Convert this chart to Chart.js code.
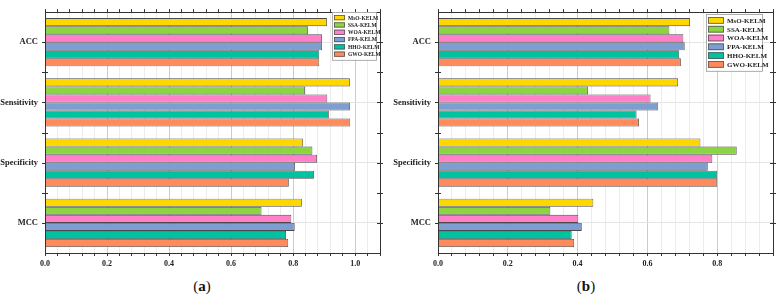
<!DOCTYPE html>
<html>
<head>
<meta charset="utf-8">
<script src="https://cdn.jsdelivr.net/npm/chart.js@4/dist/chart.umd.min.js"></script>
<style>
  html,body{margin:0;padding:0;background:#fff;width:780px;height:297px;overflow:hidden;}
  .wrap{position:absolute;top:0;height:273px;}
  .cap{position:absolute;top:278px;font-family:"Liberation Serif","DejaVu Serif",serif;font-size:15px;color:#111;width:60px;text-align:center;}
</style>
</head>
<body>
<div class="wrap" id="wa" style="left:0;width:390px;"><canvas id="ca"></canvas></div>
<div class="wrap" id="wb" style="left:390px;width:390px;"><canvas id="cb"></canvas></div>
<div class="cap" style="left:172px;">(<b>a</b>)</div>
<div class="cap" style="left:556px;">(<b>b</b>)</div>
<script>
const categories = ["ACC", "Sensitivity", "Specificity", "MCC"];
const seriesNames = ["MsO-KELM", "SSA-KELM", "WOA-KELM", "FPA-KELM", "HHO-KELM", "GWO-KELM"];
const seriesColors = ["#FFD700", "#8CD442", "#FF80C8", "#7E9ED2", "#00C2A0", "#FF8A5C"];

// Panel (a) values, per series: [ACC, Sensitivity, Specificity, MCC]
const a_MsO = [0.909, 0.983, 0.832, 0.828];
const a_SSA = [0.848, 0.838, 0.862, 0.698];
const a_WOA = [0.893, 0.910, 0.877, 0.794];
const a_FPA = [0.893, 0.983, 0.806, 0.805];
const a_HHO = [0.884, 0.915, 0.867, 0.777];
const a_GWO = [0.884, 0.984, 0.786, 0.784];

// Panel (b) values
const b_MsO = [0.722, 0.688, 0.752, 0.445];
const b_SSA = [0.663, 0.430, 0.856, 0.322];
const b_WOA = [0.703, 0.609, 0.786, 0.402];
const b_FPA = [0.707, 0.631, 0.773, 0.412];
const b_HHO = [0.691, 0.569, 0.800, 0.383];
const b_GWO = [0.696, 0.576, 0.800, 0.390];

const a_xMax = 1.08, b_xMax = 0.96, xStep = 0.04;

const serif = '"Liberation Serif","DejaVu Serif",serif';

function isMajor(v){ const r = v/0.2; return Math.abs(r-Math.round(r))<1e-6; }

const framePlugin = {
  id:'frame',
  afterDraw(chart, args, opts){
    const ctx = chart.ctx, a = chart.chartArea;
    ctx.save();
    ctx.strokeStyle = '#333'; ctx.lineWidth = 1;
    ctx.strokeRect(Math.round(a.left)+0.5, Math.round(a.top)+0.5, Math.round(a.right-a.left), Math.round(a.bottom-a.top));
    const n = chart.data.labels.length, h = (a.bottom-a.top)/n;
    for(let i=1;i<n;i++){
      const y = Math.round(a.top+h*i)+0.5;
      ctx.beginPath(); ctx.moveTo(a.left-3,y); ctx.lineTo(a.left+3,y); ctx.stroke();
      ctx.beginPath(); ctx.moveTo(a.right-3,y); ctx.lineTo(a.right+3,y); ctx.stroke();
    }
    for(let i=0;i<n;i++){
      const y = Math.round(a.top+h*(i+0.5))+0.5;
      ctx.beginPath(); ctx.moveTo(a.right-3,y); ctx.lineTo(a.right+3,y); ctx.stroke();
      ctx.beginPath(); ctx.moveTo(a.left-3,y); ctx.lineTo(a.left,y); ctx.stroke();
    }
    const L = opts;
    const ds = chart.data.datasets;
    ctx.fillStyle = '#fff';
    ctx.fillRect(L.x, L.y, L.w, L.rowH*ds.length+4);
    ctx.strokeStyle = '#999'; ctx.lineWidth = 0.8;
    ctx.strokeRect(L.x+0.5, L.y+0.5, L.w, L.rowH*ds.length+4);
    ctx.font = 'bold '+L.font+'px '+serif;
    ctx.textBaseline = 'middle';
    ds.forEach((d,i)=>{
      const yy = L.y+2+i*L.rowH;
      ctx.fillStyle = d.backgroundColor;
      ctx.fillRect(L.x+2, yy+1, L.sw, L.rowH-2);
      ctx.strokeStyle = '#555'; ctx.lineWidth = 0.8;
      ctx.strokeRect(L.x+2.5, yy+1.5, L.sw-1, L.rowH-3);
      ctx.fillStyle = '#222';
      ctx.fillText(d.label, L.x+L.sw+5, yy+L.rowH/2+0.5);
    });
    ctx.restore();
  }
};

function makeChart(id, data, xMax, yW, padRight, legend){
  const sets = [data.MsO, data.SSA, data.WOA, data.FPA, data.HHO, data.GWO];
  return new Chart(document.getElementById(id), {
    type:'bar',
    data:{
      labels: categories,
      datasets: sets.map((v,i)=>({
        label: seriesNames[i], data: v,
        backgroundColor: seriesColors[i], borderColor:'#4a4a4a', borderWidth:0.8,
        categoryPercentage:0.8, barPercentage:1.0
      }))
    },
    plugins:[framePlugin],
    options:{
      indexAxis:'y', responsive:true, maintainAspectRatio:false, animation:false,
      layout:{padding:{top:0,right:padRight,left:0,bottom:0}},
      plugins:{legend:{display:false}, tooltip:{enabled:false}, frame:legend},
      scales:{
        x:{
          position:'bottom', min:0, max:xMax,
          afterFit(s){ s.height = 20; },
          ticks:{stepSize:xStep, autoSkip:false, maxRotation:0, padding:3,
            font:{family:serif, size:8, weight:'bold'}, color:'#222',
            callback(v){ return isMajor(v) ? v.toFixed(1) : ''; }},
          grid:{ color(c){ return (c.tick && isMajor(c.tick.value)) ? '#cccccc' : '#ececec'; },
            tickLength:3, tickColor:'#333', lineWidth:1 },
          border:{display:false}
        },
        x2:{
          position:'top', min:0, max:xMax, axis:'x',
          afterFit(s){ s.height = 8; },
          ticks:{stepSize:xStep, autoSkip:false, display:false},
          grid:{drawOnChartArea:false, tickLength:3, tickColor:'#333'},
          border:{display:false}
        },
        y:{
          afterFit(s){ s.width = yW; },
          ticks:{font:{family:serif, size:8.5, weight:'bold'}, color:'#222', padding:7},
          grid:{offset:false, color:'#e4e4e4', drawTicks:false},
          border:{display:false}
        }
      }
    }
  });
}

makeChart('ca', {MsO:a_MsO, SSA:a_SSA, WOA:a_WOA, FPA:a_FPA, HHO:a_HHO, GWO:a_GWO}, a_xMax, 45, 10,
  {x:332, y:12, w:44, rowH:7.3, font:5.5, sw:11});
makeChart('cb', {MsO:b_MsO, SSA:b_SSA, WOA:b_WOA, FPA:b_FPA, HHO:b_HHO, GWO:b_GWO}, b_xMax, 48, 7,
  {x:316, y:14, w:56, rowH:8.8, font:7, sw:16});
</script>
</body>
</html>
